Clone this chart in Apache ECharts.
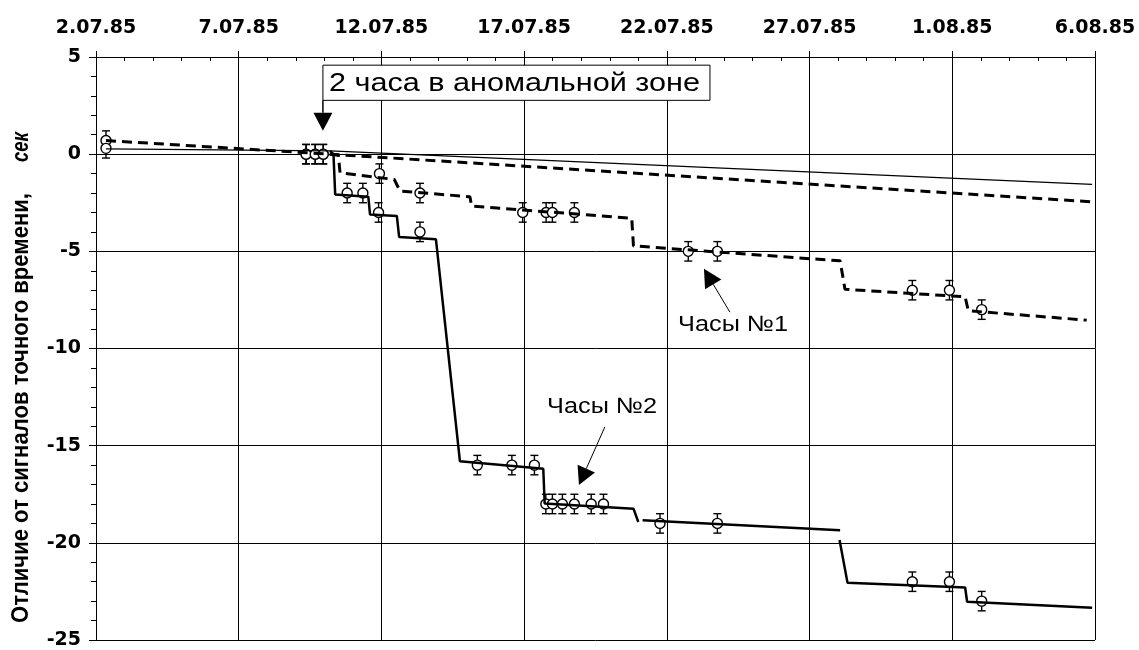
<!DOCTYPE html>
<html>
<head>
<meta charset="utf-8">
<script src="https://cdn.jsdelivr.net/npm/echarts@6/dist/echarts.min.js"></script>
<style>html,body{margin:0;padding:0;background:#fff}#c{width:1139px;height:650px}</style>
</head>
<body>
<div id="c"></div>
<script>
// x values are days counted from 2.07.85
const dateTicks = ['2.07.85','7.07.85','12.07.85','17.07.85','22.07.85','27.07.85','1.08.85','6.08.85'];
const yTickValues = [5, 0, -5, -10, -15, -20, -25];

// Measured points (circles with error bars)
const clock1PtX = [0.35, 7.36, 7.68, 7.96, 9.93, 11.35, 14.95, 15.77, 15.99, 16.76, 20.75, 21.77, 28.6, 29.9, 31.03];
const clock1PtY = [0.7, 0, 0, 0, -1, -2, -3, -3, -3, -3, -5, -5, -7, -7, -8];
const clock2PtX = [0.35, 7.36, 7.68, 7.96, 8.8, 9.35, 9.9, 11.35, 13.36, 14.57, 15.36, 15.76, 15.99, 16.34, 16.76, 17.35, 17.78, 19.76, 21.77, 28.6, 29.9, 31.03];
const clock2PtY = [0.3, 0, 0, 0, -2, -2, -3, -4, -16, -16, -16, -18, -18, -18, -18, -18, -18, -19, -19, -22, -22, -23];
const errHalf = 0.5;

// Model lines
const trendClock2 = [[0.35, 0.27], [8.2, 0.17], [34.9, -1.55]];
const trendClock1 = [[0.35, 0.7], [8.2, 0.0], [34.9, -2.45]];
const clock1Line = [[8.2, 0.0], [8.49, -0.05], [8.55, -0.96], [10.45, -1.3], [10.65, -1.9], [13.1, -2.19], [13.16, -2.67],
  [18.77, -3.3], [18.83, -4.72], [26.07, -5.49], [26.24, -6.95], [30.45, -7.34], [30.56, -8.06], [34.71, -8.54]];
const clock2SegA = [[8.2, 0.17], [8.32, 0.0], [8.38, -2.07], [9.54, -2.19], [9.6, -3.1], [10.54, -3.18], [10.62, -4.26],
  [11.91, -4.38], [12.75, -15.8], [15.67, -16.19], [15.72, -17.98], [18.83, -18.24], [19.0, -18.93]];
const clock2SegB = [[19.15, -18.84], [26.07, -19.35]];
const clock2SegC = [[26.05, -19.85], [26.33, -22.06], [30.45, -22.3], [30.52, -23.03], [34.9, -23.34]];

const FONT_AX = 'DejaVu Sans';
const FONT_TX = '"Liberation Sans", Arial, sans-serif';

function lineSeries(data, width, type) {
  return { type: 'line', data: data, xAxisIndex: 0, yAxisIndex: 0, showSymbol: false, symbol: 'none',
    lineStyle: { color: '#000', width: width, type: type, cap: 'butt' }, z: 4, silent: true, animation: false };
}
function errData(xs, ys) { return xs.map((x, i) => [x, ys[i] - errHalf, ys[i] + errHalf]); }
function ptData(xs, ys) { return xs.map((x, i) => [x, ys[i]]); }

function renderErr(params, api) {
  const x = api.value(0);
  const p1 = api.coord([x, api.value(2)]);
  const p2 = api.coord([x, api.value(1)]);
  const c = 4;
  const st = { stroke: '#000', lineWidth: 1.4 };
  return { type: 'group', children: [
    { type: 'line', shape: { x1: p1[0], y1: p1[1], x2: p2[0], y2: p2[1] }, style: st },
    { type: 'line', shape: { x1: p1[0] - c, y1: p1[1], x2: p1[0] + c, y2: p1[1] }, style: st },
    { type: 'line', shape: { x1: p2[0] - c, y1: p2[1], x2: p2[0] + c, y2: p2[1] }, style: st }
  ]};
}

const chart = echarts.init(document.getElementById('c'), null, { renderer: 'canvas' });
const option = {
  animation: false,
  backgroundColor: '#fff',
  grid: { left: 96, right: 44, top: 57, bottom: 10, containLabel: false },
  xAxis: [{
    type: 'value', position: 'top', min: 0, max: 35, interval: 5,
    axisLine: { show: true, onZero: false, lineStyle: { color: '#000', width: 1 } },
    axisTick: { show: true, inside: false, length: 6, lineStyle: { color: '#000', width: 1 } },
    minorTick: { show: false },
    axisLabel: { show: true, margin: 19, color: '#000', fontFamily: FONT_AX, fontWeight: 'bold', fontSize: 19,
      formatter: v => dateTicks[Math.round(v / 5)] || '' },
    splitLine: { show: true, lineStyle: { color: '#000', width: 1 } }
  }, {
    type: 'value', position: 'top', min: 0, max: 35, interval: 5,
    axisLine: { show: false, onZero: false },
    axisTick: { show: false, inside: true },
    minorTick: { show: true, splitNumber: 5, length: 4, lineStyle: { color: '#000', width: 1 } },
    axisLabel: { show: false },
    splitLine: { show: false }
  }],
  yAxis: {
    type: 'value', min: -25, max: 5, interval: 5,
    axisLine: { show: true, onZero: false, lineStyle: { color: '#000', width: 1 } },
    axisTick: { show: true, inside: false, length: 7, lineStyle: { color: '#000', width: 1 } },
    minorTick: { show: true, splitNumber: 5, length: 5, lineStyle: { color: '#000', width: 1 } },
    axisLabel: { show: true, margin: 15, color: '#000', fontFamily: FONT_AX, fontWeight: 'bold', fontSize: 19,
      formatter: v => (yTickValues.indexOf(v) >= 0 ? String(v) : '') },
    splitLine: { show: true, lineStyle: { color: '#000', width: 1 } }
  },
  series: [
    { type: 'custom', renderItem: renderErr, data: errData(clock1PtX, clock1PtY).concat(errData(clock2PtX, clock2PtY)),
      encode: { x: 0, y: [1, 2] }, xAxisIndex: 0, yAxisIndex: 0, z: 2, silent: true, animation: false },
    { type: 'scatter', data: ptData(clock1PtX, clock1PtY).concat(ptData(clock2PtX, clock2PtY)), xAxisIndex: 0, yAxisIndex: 0,
      symbol: 'circle', symbolSize: 10, itemStyle: { color: '#fff', borderColor: '#000', borderWidth: 1.4, opacity: 1 }, z: 3, silent: true },
    lineSeries(trendClock2, 1.3, 'solid'),
    lineSeries(trendClock1, 3, [10, 6]),
    lineSeries(clock1Line, 3, [10, 6]),
    lineSeries(clock2SegA, 2.5, 'solid'),
    lineSeries(clock2SegB, 2.5, 'solid'),
    lineSeries(clock2SegC, 2.5, 'solid')
  ]
};
chart.setOption(option);

// ---- annotations (anchored in data coordinates) ----
const px = p => chart.convertToPixel({ xAxisIndex: 0, yAxisIndex: 0 }, p);
const mctx = document.createElement('canvas').getContext('2d');
function measure(text, font) { mctx.font = font; return mctx.measureText(text).width; }

function arrowHead(tip, from, L, W) {
  const dx = tip[0] - from[0], dy = tip[1] - from[1];
  const len = Math.sqrt(dx * dx + dy * dy);
  const ux = dx / len, uy = dy / len;
  const bx = tip[0] - ux * L, by = tip[1] - uy * L;
  const nx = -uy, ny = ux;
  return { base: [bx, by], pts: [[tip[0], tip[1]], [bx + nx * W / 2, by + ny * W / 2], [bx - nx * W / 2, by - ny * W / 2]] };
}
function arrow(fromD, tipD, lw) {
  const f = px(fromD), t = px(tipD);
  const h = arrowHead(t, f, 18, 19);
  return [
    { type: 'line', shape: { x1: f[0], y1: f[1], x2: h.base[0], y2: h.base[1] }, style: { stroke: '#000', lineWidth: lw }, z: 10 },
    { type: 'polygon', shape: { points: h.pts }, style: { fill: '#000' }, z: 10 }
  ];
}
function fitText(text, fontSize, weight, style, family, target) {
  const font = style + ' ' + weight + ' ' + fontSize + 'px ' + family;
  return target / measure(text, font);
}

const graphics = [];
// box "2 часа в аномальной зоне"
const boxTL = px([7.95, 4.58]), boxBR = px([21.51, 2.77]);
graphics.push({ type: 'rect', shape: { x: boxTL[0], y: boxTL[1], width: boxBR[0] - boxTL[0], height: boxBR[1] - boxTL[1] },
  style: { fill: '#fff', stroke: '#000', lineWidth: 1 }, z: 10 });
const anomText = '2 часа в аномальной зоне';
const anomW = boxBR[0] - boxTL[0] - 16;
graphics.push({ type: 'text', x: boxTL[0] + 6, y: (boxTL[1] + boxBR[1]) / 2 + 1, z: 11,
  scaleX: fitText(anomText, 25, 'normal', 'normal', FONT_TX, anomW),
  style: { text: anomText, fontSize: 25, fontFamily: FONT_TX, fill: '#000', textAlign: 'left', textVerticalAlign: 'middle' } });
arrow([7.95, 2.77], [7.95, 1.2], 1.5).forEach(g => graphics.push(g));

// Часы №1
const l1 = px([22.32, -8.81]);
graphics.push({ type: 'text', x: l1[0], y: l1[1], z: 11, scaleX: fitText('Часы №1', 22, 'normal', 'normal', FONT_TX, 110),
  style: { text: 'Часы №1', fontSize: 22, fontFamily: FONT_TX, fill: '#000', textAlign: 'center', textVerticalAlign: 'middle' } });
arrow([22.21, -8.13], [21.3, -5.9], 1).forEach(g => graphics.push(g));

// Часы №2
const l2 = px([17.73, -13.01]);
graphics.push({ type: 'text', x: l2[0], y: l2[1], z: 11, scaleX: fitText('Часы №2', 22, 'normal', 'normal', FONT_TX, 110),
  style: { text: 'Часы №2', fontSize: 22, fontFamily: FONT_TX, fill: '#000', textAlign: 'center', textVerticalAlign: 'middle' } });
arrow([17.83, -14.03], [16.92, -17.03], 1).forEach(g => graphics.push(g));

// y-axis title
const titleMain = 'Отличие от сигналов точного времени,';
const titleUnit = 'сек';
graphics.push({ type: 'text', x: 22, y: 408, rotation: Math.PI / 2, z: 11, scaleY: 1.15,
  scaleX: fitText(titleMain, 20, 'bold', 'normal', FONT_TX, 430),
  style: { text: titleMain, fontSize: 20, fontWeight: 'bold', fontFamily: FONT_TX, fill: '#000', textAlign: 'center', textVerticalAlign: 'middle' } });
graphics.push({ type: 'text', x: 22, y: 147, rotation: Math.PI / 2, z: 11, scaleY: 1.15,
  scaleX: fitText(titleUnit, 20, 'bold', 'italic', FONT_TX, 30),
  style: { text: titleUnit, fontSize: 20, fontWeight: 'bold', fontStyle: 'italic', fontFamily: FONT_TX, fill: '#000', textAlign: 'center', textVerticalAlign: 'middle' } });

chart.setOption({ graphic: graphics });
</script>
</body>
</html>
